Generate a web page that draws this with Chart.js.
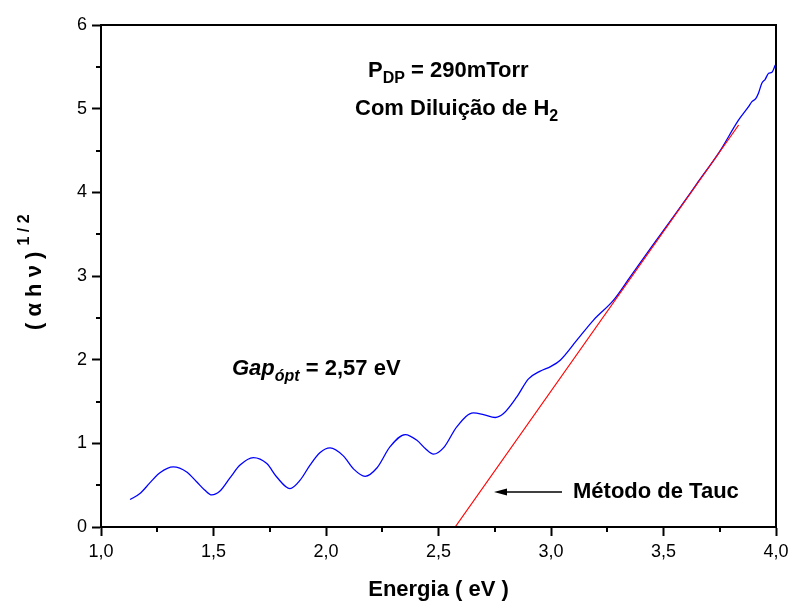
<!DOCTYPE html>
<html>
<head>
<meta charset="utf-8">
<script src="https://cdn.jsdelivr.net/npm/chart.js@4"></script>
<style>
  html, body { margin: 0; padding: 0; background: #fff; }
  #wrap { width: 791px; height: 603px; }
</style>
</head>
<body>
<div id="wrap"><canvas id="chart" width="791" height="603"></canvas></div>
<script>
// Blue curve: (alpha h nu)^(1/2) vs energy (eV)
var energy = [1.129, 1.173, 1.218, 1.262, 1.321, 1.381, 1.426, 1.462, 1.492, 1.529,
  1.574, 1.618, 1.677, 1.737, 1.781, 1.840, 1.885, 1.929, 1.974, 2.018,
  2.077, 2.122, 2.174, 2.226, 2.285, 2.352, 2.404, 2.441, 2.478, 2.522,
  2.582, 2.655, 2.700, 2.752, 2.789, 2.848, 2.900, 2.950, 3.000, 3.041,
  3.115, 3.189, 3.278, 3.352, 3.45, 3.55, 3.65, 3.75, 3.834, 3.878,
  3.893, 3.91, 3.922, 3.937, 3.952, 3.967, 3.982, 3.997];
var tauc = [0.328, 0.400, 0.530, 0.648, 0.718, 0.658, 0.538, 0.439, 0.383, 0.430,
  0.590, 0.740, 0.830, 0.758, 0.598, 0.459, 0.560, 0.740, 0.890, 0.945,
  0.850, 0.695, 0.606, 0.705, 0.960, 1.105, 1.037, 0.938, 0.870, 0.945,
  1.200, 1.364, 1.344, 1.309, 1.356, 1.555, 1.770, 1.860, 1.920, 1.994,
  2.233, 2.473, 2.711, 2.990, 3.36, 3.73, 4.11, 4.49, 4.865, 5.024,
  5.084, 5.12, 5.184, 5.304, 5.351, 5.423, 5.435, 5.522];

// Red fit line (Tauc extrapolation)
var fitX = [2.574, 3.834];
var fitY = [0, 4.805];

var xTitle = "Energia ( eV )";
var yTitle = "( \u03b1 h \u03bd )";
var yTitleSup = "1 / 2";
var noteP = ["P", "DP", " = 290mTorr"];
var noteH = ["Com Dilui\u00e7\u00e3o de H", "2"];
var noteGap = ["Gap", "\u00f3pt", " = 2,57 eV"];
var noteTauc = "M\u00e9todo de Tauc";

var FONT = "'Liberation Sans', Arial, sans-serif";

function pts(xs, ys) {
  return xs.map(function (x, i) { return { x: x, y: ys[i] }; });
}

// draw a row of text pieces, each with own font and vertical shift
function drawRuns(ctx, x, y, runs) {
  runs.forEach(function (r) {
    ctx.font = r.font;
    ctx.fillText(r.text, x, y + (r.dy || 0));
    x += ctx.measureText(r.text).width;
  });
}

var decor = {
  id: 'decor',
  afterDraw: function (chart) {
    var ctx = chart.ctx;
    var a = chart.chartArea;
    var xs = chart.scales.x, ys = chart.scales.y;
    ctx.save();
    ctx.strokeStyle = '#000';
    ctx.fillStyle = '#000';
    ctx.lineWidth = 2;
    // frame
    ctx.strokeRect(a.left, a.top, a.right - a.left, a.bottom - a.top);

    // minor ticks
    ctx.beginPath();
    for (var v = 1.25; v < 4; v += 0.5) {
      var px = Math.round(xs.getPixelForValue(v));
      ctx.moveTo(px, a.bottom);
      ctx.lineTo(px, a.bottom + 5);
    }
    for (var w = 0.5; w < 6; w += 1) {
      var py = Math.round(ys.getPixelForValue(w));
      ctx.moveTo(a.left, py);
      ctx.lineTo(a.left - 5, py);
    }
    ctx.stroke();

    ctx.textBaseline = 'alphabetic';
    ctx.textAlign = 'left';

    // x title
    ctx.font = "bold 22px " + FONT;
    ctx.textAlign = 'center';
    ctx.fillText(xTitle, (a.left + a.right) / 2, 596);
    ctx.textAlign = 'left';

    // y title (rotated)
    ctx.save();
    ctx.translate(41, 330);
    ctx.rotate(-Math.PI / 2);
    drawRuns(ctx, 0, 0, [
      { text: yTitle + " ", font: "bold 22px " + FONT },
      { text: yTitleSup, font: "bold 16px " + FONT, dy: -12 }
    ]);
    ctx.restore();

    // annotations
    drawRuns(ctx, 368, 77, [
      { text: noteP[0], font: "bold 22px " + FONT },
      { text: noteP[1], font: "bold 16px " + FONT, dy: 6 },
      { text: noteP[2], font: "bold 22px " + FONT }
    ]);
    drawRuns(ctx, 355, 115, [
      { text: noteH[0], font: "bold 22px " + FONT },
      { text: noteH[1], font: "bold 16px " + FONT, dy: 6 }
    ]);
    drawRuns(ctx, 232, 375, [
      { text: noteGap[0], font: "italic bold 22px " + FONT },
      { text: noteGap[1], font: "italic bold 16px " + FONT, dy: 6 },
      { text: noteGap[2], font: "bold 22px " + FONT }
    ]);
    ctx.font = "bold 22px " + FONT;
    ctx.fillText(noteTauc, 573, 498);

    // arrow
    ctx.lineWidth = 1.5;
    ctx.beginPath();
    ctx.moveTo(562, 492);
    ctx.lineTo(504, 492);
    ctx.stroke();
    ctx.beginPath();
    ctx.moveTo(494, 492);
    ctx.lineTo(507, 488.5);
    ctx.lineTo(507, 495.5);
    ctx.closePath();
    ctx.fill();
    ctx.restore();
  }
};

var ctx = document.getElementById('chart').getContext('2d');
var chart = new Chart(ctx, {
  type: 'scatter',
  data: {
    datasets: [{
      data: pts(fitX, fitY),
      showLine: true,
      borderColor: 'rgb(255,0,0)',
      borderWidth: 1.2,
      pointRadius: 0
    }, {
      data: pts(energy, tauc),
      showLine: true,
      borderColor: 'rgb(0,0,255)',
      borderWidth: 1.3,
      pointRadius: 0,
      cubicInterpolationMode: 'monotone'
    }]
  },
  options: {
    responsive: false,
    animation: false,
    layout: { padding: { left: 0, top: 25, right: 15, bottom: 0 } },
    plugins: { legend: { display: false }, tooltip: { enabled: false } },
    scales: {
      x: {
        type: 'linear',
        min: 1, max: 4,
        afterFit: function (s) { s.height = 76; s.paddingLeft = 0; s.paddingRight = 0; },
        border: { color: '#000', width: 2 },
        grid: { drawOnChartArea: false, drawTicks: true, tickLength: 9, tickWidth: 2, tickColor: '#000' },
        ticks: {
          stepSize: 0.5,
          color: '#000',
          padding: 5,
          maxRotation: 0,
          font: { family: FONT, size: 18 },
          callback: function (v) { return v.toFixed(1).replace('.', ','); }
        }
      },
      y: {
        type: 'linear',
        min: 0, max: 6,
        afterFit: function (s) { s.width = 101; s.paddingTop = 0; s.paddingBottom = 0; },
        border: { color: '#000', width: 2 },
        grid: { drawOnChartArea: false, drawTicks: true, tickLength: 9, tickWidth: 2, tickColor: '#000' },
        ticks: {
          stepSize: 1,
          color: '#000',
          padding: 5,
          font: { family: FONT, size: 18 }
        }
      }
    }
  },
  plugins: [decor]
});
</script>
</body>
</html>
